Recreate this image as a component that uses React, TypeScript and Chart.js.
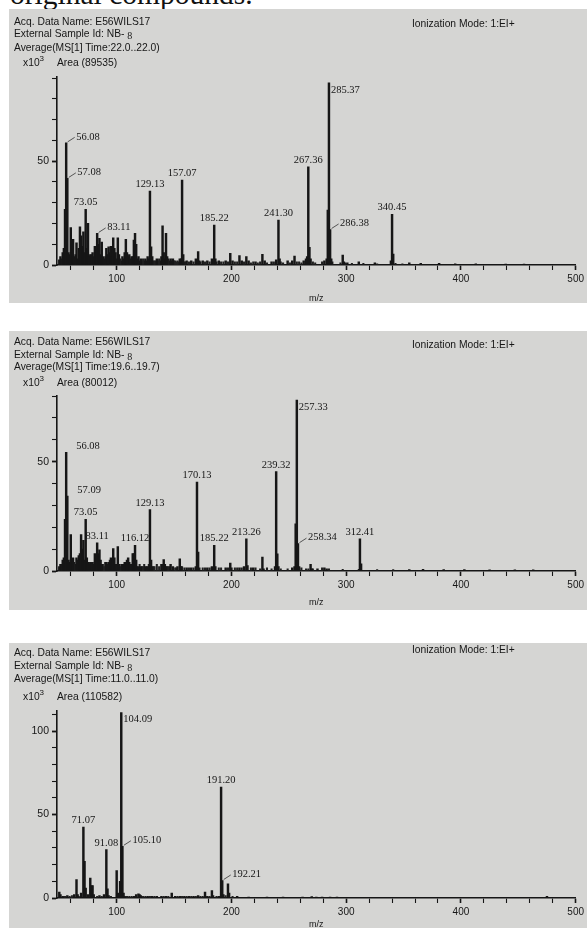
import React, { useEffect, useRef } from "react";
import { Chart, registerables } from "chart.js";

Chart.register(...registerables);

// ---------------- shared axis data ----------------
const mzMin = 48;
const mzMax = 500;
const xTickValues = [60, 80, 100, 120, 140, 160, 180, 200, 220, 240, 260, 280, 300, 320, 340, 360, 380, 400, 420, 440, 460, 480, 500];

// ---------------- panel 1 ----------------
const p1Header = ["Acq. Data Name: E56WILS17", "External Sample Id: NB- ", "Average(MS[1] Time:22.0..22.0)", "Area (89535)"];
const p1Mz = [50, 51, 53, 54, 55, 56, 57, 58, 59, 60, 61, 62, 63, 65, 66, 67, 68, 69, 70, 71, 72, 73, 74, 75, 76, 77, 79, 81, 82, 83, 84, 85, 86, 87, 88, 89, 91, 92, 93, 95, 96, 97, 98, 99, 101, 102, 105, 107, 108, 109, 111, 113, 115, 116, 117, 119, 121, 125, 127, 129, 130, 131, 135, 139, 140, 141, 143, 144, 147, 149, 155, 157, 158, 161, 165, 169, 171, 172, 175, 179, 183, 185, 186, 189, 195, 199, 201, 207, 209, 213, 215, 221, 227, 229, 235, 239, 241, 242, 249, 253, 255, 263, 265, 266, 267, 268, 269, 281, 283, 284, 285, 286, 287, 297, 298, 301, 311, 325, 339, 340, 341, 355, 365, 381, 395, 413, 439, 455];
const p1Intensity = [2.5, 4, 6, 8, 26.8, 58.8, 41.7, 6, 5, 18, 6, 12.3, 4, 10.7, 3, 8, 18.4, 14, 9, 16, 6, 26.8, 8, 20, 4, 5, 6, 9, 6, 15.2, 10, 12.8, 5, 11, 4, 3, 8, 5, 8.8, 9, 4, 13.1, 8, 6, 13.1, 5, 4, 6, 12.3, 6, 5, 4, 12, 15.2, 10, 4, 3, 3, 4, 35.6, 8.8, 4, 3, 4, 18.9, 6, 15.2, 4, 3, 3, 3, 40.9, 5, 2, 2, 3, 6.4, 2, 2, 2, 3, 19.2, 3, 2, 2, 5.6, 2, 4.5, 2, 4, 2, 1.5, 5.1, 2, 1.5, 2.5, 21.6, 3, 2, 2, 4.3, 2, 3, 4, 47.3, 8.5, 3, 2, 3, 26.4, 87.7, 17.1, 3, 4.8, 1.5, 1, 1.5, 1, 2, 24.4, 5.3, 1, 0.8, 0.8, 0.6, 0.6, 0.5, 0.5];
const p1MinorMz = [52, 64, 78, 80, 90, 94, 100, 103, 104, 106, 110, 112, 114, 118, 120, 122, 123, 124, 126, 128, 132, 133, 134, 136, 137, 138, 142, 145, 146, 148, 150, 151, 152, 153, 154, 156, 159, 160, 163, 167, 170, 173, 177, 181, 184, 187, 191, 193, 197, 203, 205, 211, 217, 219, 223, 225, 231, 237, 243, 245, 251, 257, 259, 261, 271, 273, 279, 288, 295, 299, 305, 315, 327, 343, 349];
const p1MinorIntensity = [3, 5, 5, 4, 4, 6, 3, 3, 2, 3, 4, 3, 4, 3, 2, 2, 3, 2, 2, 3, 2, 2, 2, 2, 3, 2, 3, 3, 2, 2, 2, 2, 1.5, 2, 1.5, 3, 1.5, 1.5, 1.5, 1.5, 2, 1.5, 1.5, 1.5, 1.5, 1.5, 1.5, 1.5, 1.5, 1.5, 1.5, 1.5, 1, 1.5, 1, 1.5, 1, 1.5, 1.5, 1, 1, 1.5, 1.5, 1, 1.5, 1, 1.5, 1.5, 1, 1, 0.8, 0.8, 0.6, 0.8, 0.6];
const p1Labels = ["56.08", "57.08", "73.05", "83.11", "129.13", "157.07", "185.22", "241.30", "267.36", "285.37", "286.38", "340.45"];
const p1LabelModes = ["leader", "leader", "above", "leader", "above", "above", "above", "above", "above", "right", "leader", "above"];
const p1YTicks = [0, 10, 20, 30, 40, 50, 60, 70, 80, 90];

// ---------------- panel 2 ----------------
const p2Header = ["Acq. Data Name: E56WILS17", "External Sample Id: NB- ", "Average(MS[1] Time:19.6..19.7)", "Area (80012)"];
const p2Mz = [50, 51, 53, 54, 55, 56, 57, 58, 59, 60, 61, 62, 65, 67, 68, 69, 70, 71, 72, 73, 74, 75, 77, 79, 81, 82, 83, 84, 85, 86, 87, 91, 93, 95, 96, 97, 98, 99, 101, 102, 105, 107, 109, 110, 111, 113, 114, 115, 116, 117, 119, 121, 125, 127, 129, 130, 131, 139, 141, 142, 143, 147, 149, 153, 155, 156, 161, 165, 169, 170, 171, 172, 179, 183, 185, 186, 195, 199, 200, 207, 211, 213, 214, 219, 227, 228, 238, 239, 240, 241, 253, 255, 256, 257, 258, 259, 269, 270, 275, 281, 283, 312, 313, 355, 367, 385, 403, 425, 447, 463];
const p2Intensity = [2, 3, 5, 6, 23.6, 54.3, 34.2, 5, 4, 16.6, 4, 6, 6, 7, 8, 16.7, 10, 14, 5, 23.6, 6, 4, 4, 4, 8, 6, 12.9, 8, 9.7, 5, 3, 4, 4, 6, 4, 10.2, 6, 3, 11.2, 3, 3, 4, 5, 6, 4, 3, 8, 8, 11.7, 5, 2, 2, 2, 2, 28.1, 5, 2, 3, 5.2, 3, 2, 3, 2, 2, 5.6, 2, 1.5, 1.5, 2, 40.6, 8.7, 1.5, 1.5, 2, 11.7, 2, 1.5, 3.6, 1.5, 1.5, 2, 14.7, 2.5, 1.5, 6.4, 1, 2, 45.4, 7.9, 2, 1.5, 2, 21.6, 78.1, 12.5, 2, 3, 1, 1, 1.5, 1, 14.7, 3.3, 0.6, 0.8, 0.6, 0.6, 0.5, 0.5, 0.5];
const p2MinorMz = [52, 63, 64, 66, 76, 78, 80, 88, 89, 90, 92, 94, 100, 103, 104, 106, 108, 112, 118, 120, 122, 123, 124, 126, 128, 132, 133, 135, 137, 140, 144, 145, 146, 151, 152, 157, 159, 163, 167, 175, 177, 181, 189, 191, 197, 203, 205, 209, 217, 221, 225, 231, 235, 243, 249, 261, 265, 267, 271, 279, 285, 297, 311, 327, 341];
const p2MinorIntensity = [3, 4, 3, 5, 3, 4, 3, 3, 2, 4, 3, 5, 3, 2, 3, 3, 4, 3, 2, 3, 2, 2, 3, 2, 3, 2, 2, 3, 2, 3, 2, 2, 2, 1.5, 1.5, 2, 1.5, 1.5, 1.5, 1.5, 1.5, 1.5, 1.5, 1.5, 1.5, 1.5, 1.5, 1.5, 1.5, 1.5, 1, 1.5, 1, 1, 1, 1.5, 1, 1, 1, 1.5, 1, 0.8, 0.8, 0.6, 0.6];
const p2Labels = ["56.08", "57.09", "73.05", "83.11", "116.12", "129.13", "170.13", "185.22", "213.26", "239.32", "257.33", "258.34", "312.41"];
const p2LabelModes = ["side", "side", "above", "above", "above", "above", "above", "above", "above", "above", "right", "leader", "above"];
const p2YTicks = [0, 10, 20, 30, 40, 50, 60, 70, 80];

// ---------------- panel 3 ----------------
const p3Header = ["Acq. Data Name: E56WILS17", "External Sample Id: NB- ", "Average(MS[1] Time:11.0..11.0)", "Area (110582)"];
const p3Mz = [50, 51, 53, 57, 63, 65, 66, 69, 71, 72, 73, 75, 77, 78, 79, 80, 85, 89, 91, 92, 93, 100, 101, 102, 103, 104, 105, 106, 107, 115, 117, 119, 120, 121, 127, 131, 135, 139, 143, 148, 151, 155, 159, 163, 167, 171, 177, 179, 183, 184, 189, 191, 192, 193, 197, 198, 205, 215, 231, 245, 262, 270, 274, 279, 286, 292, 475];
const p3Intensity = [3.5, 2, 1, 1.5, 2, 11, 2, 3, 42.5, 22, 6, 2, 12, 7.5, 7.5, 2, 1.5, 2, 29, 5.5, 1.5, 16.4, 3, 2, 10, 111, 31, 3, 1, 1, 2, 2.5, 2, 1.5, 1, 1, 1, 1, 1, 3, 1, 1, 1, 1, 1, 1.5, 3.5, 1, 4.5, 1.5, 1, 66.4, 10.5, 2, 8.5, 3, 1, 0.6, 0.6, 0.5, 0.6, 0.8, 0.6, 0.6, 0.6, 0.6, 1];
const p3MinorMz = [55, 59, 61, 67, 83, 87, 95, 109, 111, 113, 123, 125, 129, 133, 141, 145, 153, 157, 161, 165, 169, 173, 175, 181, 187, 195, 201];
const p3MinorIntensity = [1, 1, 1.5, 1, 1, 1, 1, 1, 1, 1, 1, 1, 1, 1, 1, 1, 1, 1, 1, 1, 1, 1, 1, 1, 1, 1.5, 1];
const p3Labels = ["71.07", "91.08", "104.09", "105.10", "191.20", "192.21"];
const p3LabelModes = ["above", "above", "right", "leader", "above", "leader"];
const p3YTicks = [0, 10, 20, 30, 40, 50, 60, 70, 80, 90, 100, 110];

const sampleIdMark = "8";
const ionizationText = "Ionization Mode: 1:EI+";
const topCaption = "original compounds.";

// ---------------- styling ----------------
const INK = "#161616";
const PANEL_BG = "#d5d5d3";
const SANS = '"Liberation Sans", Arial, sans-serif';
const SERIF = '"Liberation Serif", "Times New Roman", serif';

type PanelCfg = {
  top: number;
  height: number;
  chartTop: number;
  xAxisHeight: number;
  titlePadBottom: number;
  yMax: number;
  yTicks: number[];
  mz: number[];
  intensity: number[];
  minorMz: number[];
  minorIntensity: number[];
  labels: string[];
  modes: string[];
  header: string[];
  headerY: number[];
  ionY: number;
};

const panels: PanelCfg[] = [
  { top: 9, height: 294, chartTop: 77, xAxisHeight: 38, titlePadBottom: 0, yMax: 90.5, yTicks: p1YTicks,
    mz: p1Mz, intensity: p1Intensity, minorMz: p1MinorMz, minorIntensity: p1MinorIntensity,
    labels: p1Labels, modes: p1LabelModes, header: p1Header,
    headerY: [21.7, 34.3, 47.7, 63.3], ionY: 24 },
  { top: 331, height: 279, chartTop: 396, xAxisHeight: 39, titlePadBottom: 2.5, yMax: 80, yTicks: p2YTicks,
    mz: p2Mz, intensity: p2Intensity, minorMz: p2MinorMz, minorIntensity: p2MinorIntensity,
    labels: p2Labels, modes: p2LabelModes, header: p2Header,
    headerY: [342.3, 354.5, 367.3, 382.7], ionY: 345 },
  { top: 643, height: 295, chartTop: 711, xAxisHeight: 40, titlePadBottom: 8.5, yMax: 112, yTicks: p3YTicks,
    mz: p3Mz, intensity: p3Intensity, minorMz: p3MinorMz, minorIntensity: p3MinorIntensity,
    labels: p3Labels, modes: p3LabelModes, header: p3Header,
    headerY: [652.7, 666, 679, 696.7], ionY: 650 },
];

const peakLabelPlugin = {
  id: "peakLabels",
  afterDatasetsDraw(chart: any, _args: any, opts: any) {
    const { ctx } = chart;
    const xs = chart.scales.x;
    const ys = chart.scales.y;
    const pts = chart.data.datasets[0].data as { x: number; y: number }[];
    ctx.save();
    ctx.font = `10.5px ${SERIF}`;
    ctx.fillStyle = INK;
    ctx.strokeStyle = "#333";
    ctx.lineWidth = 0.8;
    (opts.labels as string[]).forEach((text, i) => {
      const mz = parseFloat(text);
      const peak = pts.reduce((b, p) => (Math.abs(p.x - mz) < Math.abs(b.x - mz) ? p : b), pts[0]);
      const px = xs.getPixelForValue(peak.x);
      const py = ys.getPixelForValue(peak.y);
      const mode = opts.modes[i];
      if (mode === "above") {
        ctx.textAlign = "center";
        ctx.textBaseline = "bottom";
        ctx.fillText(text, px, py - 1.5);
      } else if (mode === "right") {
        ctx.textAlign = "left";
        ctx.textBaseline = "middle";
        ctx.fillText(text, px + 2, py + 7);
      } else {
        if (mode === "leader") {
          ctx.beginPath();
          ctx.moveTo(px + 1.5, py - 1);
          ctx.lineTo(px + 8.5, py - 5.5);
          ctx.stroke();
        }
        ctx.textAlign = "left";
        ctx.textBaseline = "middle";
        ctx.fillText(text, px + 10, py - 6);
      }
    });
    ctx.restore();
  },
};

function SpectrumPanel({ cfg }: { cfg: PanelCfg }) {
  const ref = useRef<HTMLCanvasElement | null>(null);
  useEffect(() => {
    if (!ref.current) return;
    const main = cfg.mz.map((m, i) => ({ x: m, y: cfg.intensity[i] }));
    const minor = cfg.minorMz.map((m, i) => ({ x: m, y: cfg.minorIntensity[i] }));
    const chart = new Chart(ref.current, {
      type: "bar",
      data: {
        datasets: [
          { data: main as any, backgroundColor: INK, borderWidth: 0, barThickness: 1.8, grouped: false } as any,
          { data: minor as any, backgroundColor: "#202020", borderWidth: 0, barThickness: 1.4, grouped: false } as any,
        ],
      },
      options: {
        animation: false,
        responsive: false,
        devicePixelRatio: 1,
        layout: { padding: { left: 0, right: 10, top: cfg.chartTop - cfg.top, bottom: 0 } },
        plugins: {
          legend: { display: false },
          tooltip: { enabled: false },
          title: { display: false },
          peakLabels: { labels: cfg.labels, modes: cfg.modes },
        } as any,
        scales: {
          x: {
            type: "linear",
            min: mzMin,
            max: mzMax,
            offset: false,
            grid: {
              offset: false,
              drawOnChartArea: false,
              drawTicks: true,
              tickLength: 5,
              tickColor: INK,
              tickWidth: (c: any) => (c.tick && c.tick.value % 100 === 0 ? 1.6 : 1.1),
            },
            border: { display: true, color: INK, width: 1.6 },
            ticks: {
              autoSkip: false,
              maxRotation: 0,
              minRotation: 0,
              padding: 3,
              color: INK,
              font: { family: SANS, size: 10 },
              callback: (v: any) => (Number(v) % 100 === 0 ? String(v) : ""),
            },
            afterBuildTicks: (s: any) => {
              s.ticks = xTickValues.map((v) => ({ value: v }));
            },
            afterFit: (s: any) => {
              s.height = cfg.xAxisHeight;
            },
            title: {
              display: true,
              text: "m/z",
              color: INK,
              font: { family: SANS, size: 9, lineHeight: 1 },
              padding: { top: 0, bottom: cfg.titlePadBottom },
            },
          } as any,
          y: {
            type: "linear",
            min: 0,
            max: cfg.yMax,
            grid: {
              drawOnChartArea: false,
              drawTicks: true,
              tickLength: 5,
              tickColor: INK,
              tickWidth: (c: any) => (c.tick && c.tick.value % 50 === 0 ? 1.8 : 1.1),
            },
            border: { display: true, color: INK, width: 1.6 },
            ticks: {
              autoSkip: false,
              padding: 3,
              color: INK,
              font: { family: SANS, size: 10.5 },
              callback: (v: any) => (Number(v) % 50 === 0 ? String(v) : ""),
            },
            afterBuildTicks: (s: any) => {
              s.ticks = cfg.yTicks.map((v) => ({ value: v }));
            },
            afterFit: (s: any) => {
              s.width = 48;
            },
          } as any,
        },
      },
      plugins: [peakLabelPlugin as any],
    });
    return () => chart.destroy();
  }, [cfg]);

  return (
    <div
      style={{
        position: "absolute",
        left: 9,
        top: cfg.top,
        width: 578,
        height: cfg.height,
        background: PANEL_BG,
      }}
    >
      <canvas ref={ref} width={578} height={cfg.height} style={{ display: "block" }} />
    </div>
  );
}

function HeaderText({ cfg }: { cfg: PanelCfg }) {
  const base: React.CSSProperties = {
    position: "absolute",
    fontFamily: SANS,
    fontSize: 10.3,
    lineHeight: "12px",
    color: INK,
    whiteSpace: "nowrap",
  };
  return (
    <>
      <div style={{ ...base, left: 14, top: cfg.headerY[0] - 6 }}>{cfg.header[0]}</div>
      <div style={{ ...base, left: 14, top: cfg.headerY[1] - 6 }}>
        {cfg.header[1]}
        <span style={{ fontFamily: SERIF, fontSize: 10, position: "relative", top: 2 }}>{sampleIdMark}</span>
      </div>
      <div style={{ ...base, left: 14, top: cfg.headerY[2] - 6 }}>{cfg.header[2]}</div>
      <div style={{ ...base, left: 23, top: cfg.headerY[3] - 6 }}>
        x10<span style={{ fontSize: 8, position: "relative", top: -5 }}>3</span>
      </div>
      <div style={{ ...base, left: 57, top: cfg.headerY[3] - 6 }}>{cfg.header[3]}</div>
      <div style={{ ...base, left: 412, top: cfg.ionY - 6 }}>{ionizationText}</div>
    </>
  );
}

export default function App() {
  return (
    <div
      style={{
        position: "fixed",
        left: 0,
        top: 0,
        width: 587,
        height: 928,
        overflow: "hidden",
        background: "#ffffff",
      }}
    >
      <div
        style={{
          position: "absolute",
          left: 10,
          top: -20,
          fontFamily: SERIF,
          fontSize: 29.5,
          lineHeight: "29px",
          color: "#111",
          whiteSpace: "nowrap",
        }}
      >
        {topCaption}
      </div>
      {panels.map((p, i) => (
        <React.Fragment key={i}>
          <SpectrumPanel cfg={p} />
          <HeaderText cfg={p} />
        </React.Fragment>
      ))}
    </div>
  );
}
